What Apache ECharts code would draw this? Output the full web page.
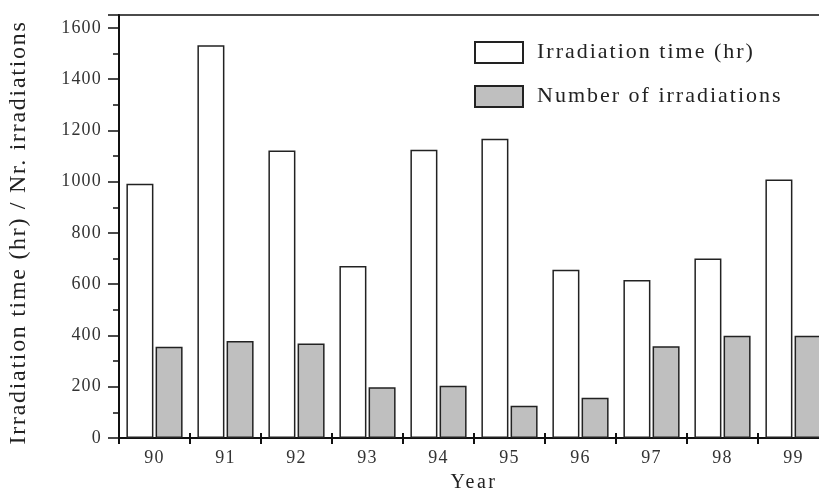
<!DOCTYPE html>
<html>
<head>
<meta charset="utf-8">
<script src="https://cdn.jsdelivr.net/npm/echarts@6/dist/echarts.min.js"></script>
<style>
  html, body { margin: 0; padding: 0; background: #fff; }
  #chart { width: 819px; height: 492px; }
</style>
</head>
<body>
<div id="chart"></div>
<script>
// data
var years = ['90', '91', '92', '93', '94', '95', '96', '97', '98', '99']
var irradiationTime = [992, 1532, 1121, 671, 1124, 1167, 656, 616, 700, 1008]
var irradiationCount = [356, 378, 369, 198, 204, 126, 157, 358, 399, 399]

var FONT = '"Liberation Serif", "DejaVu Serif", serif'
var TEXT = '#333'
var LINE = '#111'

// the scanned figure has loosely spaced type; add tracking per font size
var TRACKING = { '18': '1.2px', '20': '2.5px', '22': '2px', '24': '1.7px' }
var fillText = CanvasRenderingContext2D.prototype.fillText
CanvasRenderingContext2D.prototype.fillText = function() {
  var m = /(\d+)px/.exec(this.font || '')
  this.letterSpacing = (m && TRACKING[m[1]]) || '0px'
  return fillText.apply(this, arguments)
}

var chart = echarts.init(document.getElementById('chart'))
chart.setOption({
  animation: false,
  textStyle: { fontFamily: FONT },
  grid: {
    left: 119, top: 15, right: -10, bottom: 54,
    outerBoundsMode: 'none',
    show: true, borderColor: LINE, borderWidth: 1.5, backgroundColor: 'transparent'
  },
  legend: {
    orient: 'vertical',
    left: 474,
    top: 41,
    padding: 0,
    itemWidth: 48,
    itemHeight: 21,
    itemGap: 21,
    icon: 'rect',
    textStyle: { fontFamily: FONT, fontSize: 22, color: '#222', padding: [0, 0, 0, 9] },
    data: ['Irradiation time (hr)', 'Number of irradiations']
  },
  xAxis: [
    {
      type: 'category',
      data: years,
      name: 'Year',
      nameLocation: 'middle',
      nameGap: 35,
      nameTextStyle: { fontFamily: FONT, fontSize: 20, color: '#222' },
      axisLine: { lineStyle: { color: LINE, width: 2 } },
      axisTick: { show: true, length: 6, lineStyle: { color: LINE, width: 2 } },
      axisLabel: { fontFamily: FONT, fontSize: 18, color: TEXT, margin: 11 }
    },
    {
      // inner half of the boundary ticks
      type: 'category',
      data: years,
      position: 'bottom',
      axisLine: { show: false },
      axisTick: { show: true, inside: true, length: 5, lineStyle: { color: LINE, width: 2 } },
      axisLabel: { show: false }
    }
  ],
  yAxis: {
    type: 'value',
    min: 0,
    max: 1650,
    interval: 200,
    name: 'Irradiation time (hr) / Nr. irradiations',
    nameLocation: 'middle',
    nameGap: 88,
    nameTextStyle: { fontFamily: FONT, fontSize: 24, color: '#222', padding: [0, 12, 0, 0] },
    axisLine: { show: true, lineStyle: { color: LINE, width: 2 } },
    axisTick: { show: true, length: 11, lineStyle: { color: LINE, width: 1.5 } },
    minorTick: { show: true, splitNumber: 2, length: 6, lineStyle: { color: LINE, width: 1.5 } },
    splitLine: { show: false },
    axisLabel: {
      fontFamily: FONT, fontSize: 18, color: TEXT, margin: 17,
      formatter: function(v) { return v % 200 === 0 ? String(v) : '' }
    }
  },
  series: [
    {
      name: 'Irradiation time (hr)',
      type: 'bar',
      data: irradiationTime,
      barWidth: 27,
      barGap: '8%',
      itemStyle: { color: '#fff', borderColor: '#222', borderWidth: 1.5 }
    },
    {
      name: 'Number of irradiations',
      type: 'bar',
      data: irradiationCount,
      barWidth: 27,
      itemStyle: { color: '#bfbfbf', borderColor: '#222', borderWidth: 1.5 }
    }
  ]
})
</script>
</body>
</html>
